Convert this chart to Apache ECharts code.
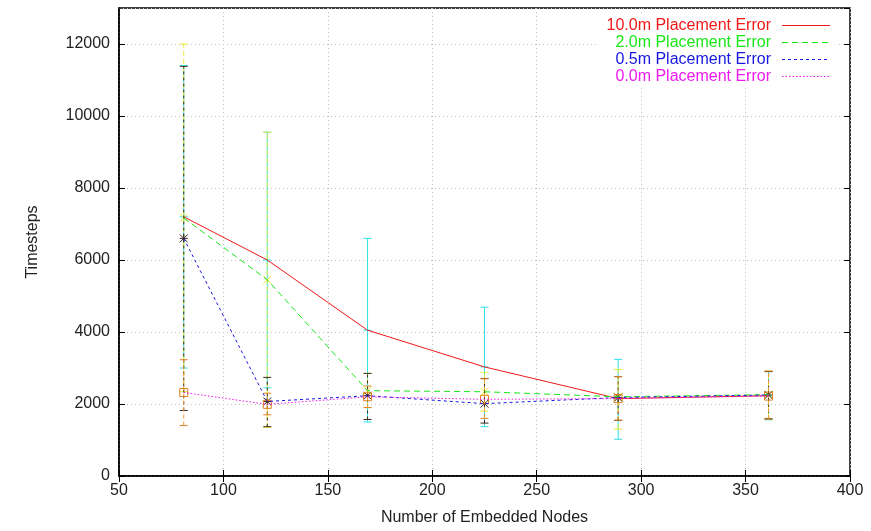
<!DOCTYPE html>
<html>
<head>
<meta charset="utf-8">
<script src="https://cdn.jsdelivr.net/npm/echarts@6/dist/echarts.min.js"></script>
<style>html,body{margin:0;padding:0;background:#fff}#c{width:871px;height:531px}</style>
</head>
<body>
<div id="c"></div>
<script>
// ---- data ----
var nodes = [81, 121, 169, 225, 289, 361];
var names = ['10.0m Placement Error', '2.0m Placement Error', '0.5m Placement Error', '0.0m Placement Error'];
var mean10 = [7200, 6000, 4050, 3030, 2150, 2230];
var mean2  = [7170, 5450, 2370, 2340, 2200, 2260];
var mean05 = [6600, 2070, 2230, 2010, 2180, 2250];
var mean0  = [2320, 1990, 2200, 2130, 2150, 2220];
var low10  = [3000, 2450, 1500, 1370, 1020, 1560];
var high10 = [11400, 9550, 6600, 4690, 3240, 2900];
var low2   = [2340, 1350, 1900, 1800, 1300, 1600];
var high2  = [12000, 9550, 2850, 2880, 2960, 2910];
var low05  = [1820, 1370, 1570, 1470, 1545, 1590];
var high05 = [11380, 2740, 2850, 2710, 2760, 2900];
var low0   = [1400, 1700, 1900, 1600, 1550, 1580];
var high0  = [3230, 2300, 2500, 2700, 2760, 2915];
var xTicks = [50, 100, 150, 200, 250, 300, 350, 400];
var yTicks = [0, 2000, 4000, 6000, 8000, 10000, 12000];

var lineColors = ['#f01818', '#18e818', '#1818e0', '#f018f0'];
var lineTypes = ['solid', [6, 4], [3, 3], [1.5, 2]];
var errColors = ['#30e0e8', '#e8e830', '#3a2a20', '#f0a030'];
var errTypes = ['solid', [5, 3], [3, 3], [4, 3]];
var markerKinds = ['plus', 'cross', 'star', 'square'];

var means = [mean10, mean2, mean05, mean0];
var lows = [low10, low2, low05, low0];
var highs = [high10, high2, high05, high0];

function pairs(xs, ys) { return xs.map(function (x, i) { return [x, ys[i]]; }); }
function errRows(m, l, h) { return nodes.map(function (x, i) { return [x, m[i], l[i], h[i]]; }); }

// legend sample icon: a thin (optionally dashed) line as a filled path
function dashIcon(t) {
  var W = 48, p = '';
  if (t === 'solid') return 'path://M0,0h48v1h-48z';
  var on = t[0], off = t[1];
  for (var x = 0; x < W; x += on + off) {
    var w = Math.min(on, W - x);
    p += 'M' + x + ',0h' + w + 'v1h-' + w + 'z';
  }
  p += 'M47.99,0h0.01v1h-0.01z';
  return 'path://' + p;
}

function makeRender(k) {
  return function (params, api) {
    var x = api.value(0);
    var pm = api.coord([x, api.value(1)]);
    var pl = api.coord([x, api.value(2)]);
    var ph = api.coord([x, api.value(3)]);
    var cw = 4, s = 4;
    var st = { stroke: errColors[k], lineWidth: 1, lineDash: errTypes[k] === 'solid' ? null : errTypes[k] };
    var st2 = { stroke: k === 3 ? '#e08020' : errColors[k], lineWidth: 1 };
    var ch = [
      { type: 'line', shape: { x1: pl[0], y1: pl[1], x2: ph[0], y2: ph[1] }, style: st },
      { type: 'line', shape: { x1: pl[0] - cw, y1: pl[1], x2: pl[0] + cw, y2: pl[1] }, style: st2 },
      { type: 'line', shape: { x1: ph[0] - cw, y1: ph[1], x2: ph[0] + cw, y2: ph[1] }, style: st2 }
    ];
    var kind = markerKinds[k];
    if (kind === 'plus' || kind === 'star') {
      ch.push({ type: 'line', shape: { x1: pm[0] - s, y1: pm[1], x2: pm[0] + s, y2: pm[1] }, style: st2 });
      ch.push({ type: 'line', shape: { x1: pm[0], y1: pm[1] - s, x2: pm[0], y2: pm[1] + s }, style: st2 });
    }
    if (kind === 'cross' || kind === 'star') {
      ch.push({ type: 'line', shape: { x1: pm[0] - s, y1: pm[1] - s, x2: pm[0] + s, y2: pm[1] + s }, style: st2 });
      ch.push({ type: 'line', shape: { x1: pm[0] - s, y1: pm[1] + s, x2: pm[0] + s, y2: pm[1] - s }, style: st2 });
    }
    if (kind === 'square') {
      ch.push({ type: 'rect', shape: { x: pm[0] - s, y: pm[1] - s, width: 2 * s, height: 2 * s }, style: { stroke: '#e08020', fill: 'none', lineWidth: 1 } });
    }
    return { type: 'group', children: ch };
  };
}

var series = [];
for (var k = 0; k < 4; k++) {
  series.push({
    type: 'custom', name: 'err' + k, renderItem: makeRender(k),
    data: errRows(means[k], lows[k], highs[k]), z: 2, silent: true
  });
}
for (var k2 = 0; k2 < 4; k2++) {
  series.push({
    type: 'line', name: names[k2], data: pairs(nodes, means[k2]),
    symbol: 'none', z: 3, color: lineColors[k2],
    lineStyle: { color: lineColors[k2], width: 1, type: lineTypes[k2] },
    itemStyle: { color: lineColors[k2] }
  });
}

var font = 'Liberation Sans, Arial, sans-serif';
var fs = 16;
var chart = echarts.init(document.getElementById('c'), null, { renderer: 'canvas' });
chart.setOption({
  animation: false,
  backgroundColor: '#fff',
  grid: { left: 119, right: 21, top: 8, bottom: 52, show: true, borderColor: '#000', borderWidth: 1.5, backgroundColor: 'transparent' },
  legend: {
    data: names.map(function (n, i) {
      return { name: n, icon: dashIcon(lineTypes[i]), textStyle: { color: lineColors[i] } };
    }),
    orient: 'vertical', right: 33, top: 15, align: 'right',
    itemWidth: 48, itemHeight: 1.4, itemGap: 0,
    backgroundColor: '#fff', padding: [2, 8, 2, 8],
    textStyle: { fontFamily: font, fontSize: fs, lineHeight: 17, padding: [0, 6, 0, 0] }
  },
  xAxis: [{
    type: 'value', min: xTicks[0], max: xTicks[xTicks.length - 1], interval: 50,
    name: 'Number of Embedded Nodes', nameLocation: 'middle', nameGap: 34,
    nameTextStyle: { fontFamily: font, fontSize: fs, color: '#222' },
    axisLine: { lineStyle: { color: '#000', width: 1.5 } },
    axisTick: { inside: true, length: 6, lineStyle: { color: '#000' } },
    axisLabel: { fontFamily: font, fontSize: fs, color: '#222', margin: 7 },
    splitLine: { show: true, lineStyle: { color: '#c0c0c0', type: [1, 3] } }
  }, {
    type: 'value', position: 'top', min: xTicks[0], max: xTicks[xTicks.length - 1], interval: 50,
    axisLine: { show: false }, axisLabel: { show: false }, splitLine: { show: false },
    axisTick: { inside: true, length: 6, lineStyle: { color: '#000' } }
  }],
  yAxis: [{
    type: 'value', min: 0, max: 13000, interval: 2000,
    name: 'Timesteps', nameLocation: 'middle', nameGap: 78,
    nameTextStyle: { fontFamily: font, fontSize: fs, color: '#222' },
    axisLine: { show: true, lineStyle: { color: '#000', width: 1.5 } },
    axisTick: { show: true, inside: true, length: 6, lineStyle: { color: '#000' } },
    axisLabel: { fontFamily: font, fontSize: fs, color: '#222', margin: 9, showMaxLabel: false,
      formatter: function (v) { return String(v); } },
    splitLine: { show: true, lineStyle: { color: '#c0c0c0', type: [1, 3] } }
  }, {
    type: 'value', position: 'right', min: 0, max: 13000, interval: 2000,
    axisLine: { show: false }, axisLabel: { show: false }, splitLine: { show: false },
    axisTick: { show: true, inside: true, length: 6, lineStyle: { color: '#000' } }
  }],
  series: series
});
</script>
</body>
</html>
